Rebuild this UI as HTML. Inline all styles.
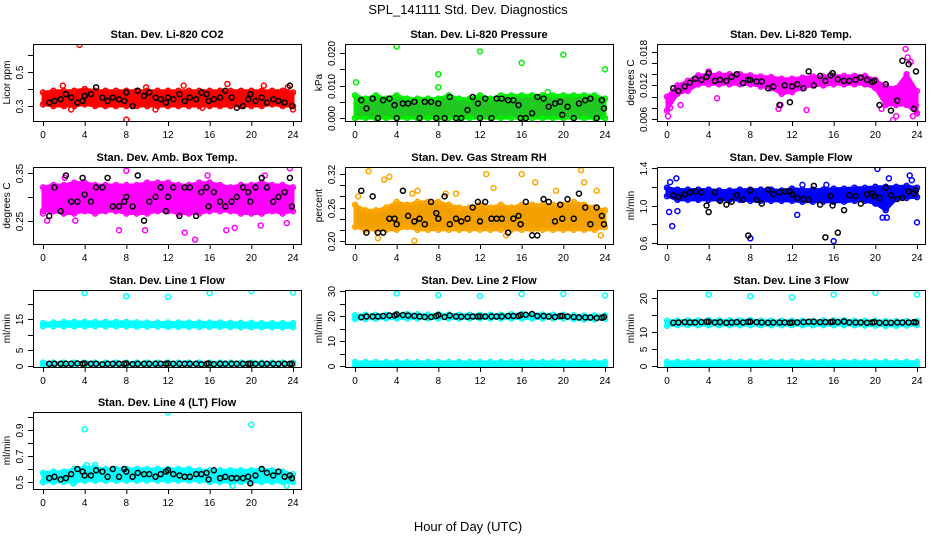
<!DOCTYPE html>
<html><head><meta charset="utf-8"><style>
html,body{margin:0;padding:0;background:#fff;}
svg{display:block;font-family:"Liberation Sans",sans-serif;}
</style></head><body>
<svg id="chart" width="936" height="540" viewBox="0 0 936 540" xmlns="http://www.w3.org/2000/svg">
<rect width="936" height="540" fill="#fff"/>
<text x="468" y="14" font-size="13" text-anchor="middle">SPL_141111  Std. Dev. Diagnostics</text>
<text x="468" y="531" font-size="13" text-anchor="middle">Hour of Day (UTC)</text>
</svg>
<script>
const bandHours=[0,1,2,3,4,5,6,7,8,9,10,11,12,13,14,15,16,17,18,19,20,21,22,23,24];
const blackHours=[0.6,1.1,1.7,2.2,2.7,3.3,3.8,4.0,4.6,5.1,5.7,6.2,6.7,7.3,7.8,8.0,8.6,9.1,9.7,10.2,10.8,11.3,11.8,12.0,12.5,13.1,13.6,14.1,14.7,15.2,15.7,15.9,16.4,17.0,17.5,18.1,18.6,19.2,19.7,19.9,20.4,21.0,21.5,22.1,22.6,23.2,23.7,23.9];
const xTicks=[0,4,8,12,16,20,24];
const titles=["Stan. Dev. Li-820 CO2","Stan. Dev. Li-820 Pressure","Stan. Dev. Li-820 Temp.","Stan. Dev. Amb. Box Temp.","Stan. Dev. Gas Stream RH","Stan. Dev. Sample Flow","Stan. Dev. Line 1 Flow","Stan. Dev. Line 2 Flow","Stan. Dev. Line 3 Flow","Stan. Dev. Line 4 (LT) Flow"];
const yLabels=["Licor ppm","kPa","degrees C","degrees C","percent","ml/min","ml/min","ml/min","ml/min","ml/min"];
const yRanges=[[0.212,0.665],[-0.0009,0.0228],[0.00564,0.0194],[0.201,0.3628],[0.1945,0.3327],[0.589,1.411],[-0.33,24.5],[-0.4,30.4],[-0.3,22.35],[0.446,1.038]];
const yTicks=[[0.3,0.4,0.5,0.6],[0,0.005,0.01,0.015,0.02],[0.006,0.008,0.01,0.012,0.014,0.016,0.018],[0.25,0.3,0.35],[0.2,0.22,0.24,0.26,0.28,0.3,0.32],[0.6,0.8,1.0,1.2,1.4],[0,5,10,15,20],[0,5,10,15,20,25,30],[0,5,10,15,20],[0.5,0.6,0.7,0.8,0.9,1.0]];
const yTickLabels=[["0.3","","0.5",""],["0.000","","0.010","","0.020"],["0.006","","","0.012","","","0.018"],["0.25","","0.35"],["0.20","","","0.26","","","0.32"],["0.6","","1.0","","1.4"],["0","5","","15",""],["0","","10","","20","","30"],["0","5","10","","20"],["0.5","","0.7","","0.9",""]];
const colors=["#ff0000","#00ee00","#ff00ff","#ff00ff","#ffa500","#0000ff","#00ffff","#00ffff","#00ffff","#00ffff"];
const fills=["#ff0000","#22c822","#ff00ff","#ff00ff","#f2a000","#0000ff","#00ffff","#00ffff","#00ffff","#00ffff"];
const bandLo=[
[0.31,0.30,0.30,0.30,0.31,0.30,0.30,0.30,0.30,0.30,0.30,0.30,0.30,0.30,0.30,0.30,0.30,0.30,0.30,0.30,0.30,0.30,0.31,0.30,0.30],
[0,0,0,0,0,0,0,0,0,0,0,0,0,0,0,0,0,0,0,0,0,0,0,0,0],
[0.0075,0.0105,0.011,0.0122,0.0122,0.0122,0.0122,0.0122,0.0122,0.0118,0.0115,0.0105,0.0108,0.0115,0.012,0.012,0.0122,0.0122,0.0122,0.0122,0.0115,0.0085,0.0085,0.0085,0.007],
[0.27,0.27,0.265,0.265,0.27,0.265,0.27,0.27,0.265,0.265,0.265,0.27,0.27,0.265,0.265,0.265,0.27,0.27,0.27,0.265,0.265,0.265,0.27,0.265,0.27],
[0.225,0.22,0.22,0.22,0.22,0.225,0.22,0.22,0.22,0.22,0.22,0.22,0.22,0.22,0.22,0.22,0.22,0.22,0.22,0.22,0.22,0.22,0.22,0.22,0.225],
[1.10,1.06,1.06,1.06,1.06,1.06,1.06,1.06,1.05,1.05,1.05,1.05,1.05,1.04,1.04,1.04,1.04,1.04,1.05,1.05,1.02,0.95,1.07,1.08,1.09],
[12.8,12.8,12.8,12.8,12.8,12.8,12.8,12.8,12.8,12.7,12.7,12.7,12.6,12.6,12.6,12.6,12.6,12.6,12.6,12.5,12.5,12.5,12.5,12.5,12.5],
[18.8,18.8,18.9,19.0,19.0,19.0,19.0,19.0,19.0,19.0,19.0,19.0,19.0,19.0,19.0,19.0,19.0,19.0,19.0,19.0,19.0,18.8,18.6,18.6,18.8],
[11.8,12.0,12.0,12.0,12.0,12.0,12.0,12.0,12.0,12.0,12.0,12.0,12.0,12.0,12.0,12.0,12.0,12.0,12.0,11.9,11.9,11.8,11.8,11.9,12.0],
[0.5,0.5,0.5,0.5,0.51,0.51,0.51,0.51,0.51,0.51,0.51,0.51,0.51,0.51,0.51,0.51,0.5,0.5,0.5,0.5,0.5,0.5,0.5,0.5,0.5]];
const bandHi=[
[0.38,0.39,0.39,0.39,0.40,0.39,0.39,0.39,0.39,0.39,0.39,0.39,0.39,0.39,0.39,0.39,0.39,0.39,0.39,0.39,0.39,0.39,0.39,0.39,0.38],
[0.007,0.006,0.007,0.006,0.007,0.006,0.006,0.006,0.006,0.007,0.006,0.006,0.007,0.006,0.007,0.007,0.007,0.007,0.007,0.007,0.007,0.007,0.007,0.007,0.006],
[0.0100,0.0120,0.0128,0.0138,0.0140,0.0140,0.0140,0.0140,0.0138,0.0136,0.0135,0.0132,0.0132,0.0134,0.0136,0.0136,0.0137,0.0137,0.0137,0.0137,0.0130,0.0118,0.0115,0.0140,0.0110],
[0.32,0.325,0.325,0.33,0.33,0.325,0.325,0.325,0.325,0.325,0.33,0.33,0.33,0.325,0.325,0.33,0.33,0.325,0.32,0.325,0.325,0.33,0.325,0.325,0.32],
[0.265,0.255,0.255,0.26,0.27,0.265,0.27,0.27,0.27,0.265,0.26,0.26,0.265,0.26,0.265,0.26,0.265,0.265,0.265,0.265,0.265,0.27,0.265,0.26,0.255],
[1.19,1.17,1.17,1.17,1.17,1.16,1.16,1.17,1.17,1.17,1.17,1.16,1.18,1.17,1.17,1.17,1.18,1.18,1.19,1.19,1.20,1.20,1.20,1.21,1.19],
[13.8,14.0,14.2,14.2,14.2,14.2,14.2,14.2,14.2,14.1,14.0,14.0,14.0,14.0,14.0,14.0,14.0,14.0,13.9,13.9,13.9,13.8,13.8,13.8,13.8],
[20.3,20.5,20.5,20.5,20.8,20.8,20.7,20.6,20.7,20.6,20.5,20.5,20.5,20.5,20.5,20.7,20.8,20.8,20.6,20.5,20.5,20.3,20.2,20.2,20.2],
[13.3,13.3,13.4,13.4,13.5,13.4,13.4,13.4,13.5,13.3,13.3,13.3,13.3,13.3,13.3,13.4,13.4,13.4,13.3,13.3,13.3,13.2,13.2,13.2,13.2],
[0.57,0.58,0.58,0.6,0.61,0.61,0.6,0.6,0.6,0.6,0.6,0.6,0.6,0.6,0.6,0.59,0.59,0.59,0.59,0.59,0.59,0.6,0.59,0.58,0.56]];
const band2Lo=[null,null,null,null,null,null,
[0.3,0.3,0.3,0.3,0.3,0.3,0.3,0.3,0.3,0.3,0.3,0.3,0.3,0.3,0.3,0.3,0.3,0.3,0.3,0.3,0.3,0.3,0.3,0.3,0.3],
[0,0,0,0,0,0,0,0,0,0,0,0,0,0,0,0,0,0,0,0,0,0,0,0,0],
[0,0,0,0,0,0,0,0,0,0,0,0,0,0,0,0,0,0,0,0,0,0,0,0,0],null];
const band2Hi=[null,null,null,null,null,null,
[1.1,1.1,1.1,1.1,1.1,1.1,1.1,1.1,1.1,1.1,1.1,1.1,1.1,1.1,1.1,1.1,1.1,1.1,1.1,1.1,1.1,1.1,1.1,1.1,1.1],
[1.6,1.6,1.6,1.6,1.6,1.6,1.6,1.6,1.6,1.6,1.6,1.6,1.6,1.6,1.6,1.6,1.6,1.6,1.6,1.6,1.6,1.6,1.6,1.6,1.6],
[1.2,1.2,1.2,1.2,1.2,1.2,1.2,1.2,1.2,1.2,1.2,1.2,1.2,1.2,1.2,1.2,1.2,1.2,1.2,1.2,1.2,1.2,1.2,1.2,1.2],null];
const outlierHours=[
[3.5,8.0,24.0,1.9,17.7,21.2,9.9,2.7,10.8,13.5,15.3,23.5],
[0.1,4.0,8.0,8.0,12.0,16.0,20.0,24.0,0.3,18.5],
[0.1,0.3,1.3,4.0,4.8,10.7,13.4,21.7,22.0,22.9,23.1,23.4,23.6,23.9,20.6,10.9],
[8.0,23.7,14.6,13.6,0.0,0.4,3.1,7.3,9.8,17.6,18.4,20.9,23.4,15.8,21.3,2.1],
[1.3,2.8,3.3,12.6,16.0,17.3,21.7,22.0,5.7,2.2,14.5,23.6,0.3,8.7,9.7,13.3,19.3,23.2,6.0,5.5],
[0.2,0.3,0.5,0.9,1.0,8.0,12.5,16.0,20.2,20.7,21.1,21.3,23.3,23.5,24.0,13.0,15.3],
[4.0,8.0,12.0,16.0,20.0,24.0],
[4.0,8.0,12.0,16.0,20.0,24.0],
[4.0,8.0,12.0,16.0,20.0,24.0],
[4.0,12.0,20.0,4.2,5.0,18.2,23.4,0.0,2.9]];
const outlierValues=[
[0.66,0.22,0.28,0.42,0.43,0.42,0.41,0.28,0.28,0.42,0.29,0.41],
[0.011,0.022,0.0135,0.0095,0.0205,0.017,0.0195,0.015,0.004,0.008],
[0.0065,0.008,0.0085,0.0145,0.0097,0.0078,0.0076,0.0058,0.0065,0.0185,0.017,0.0162,0.0065,0.0085,0.0078,0.0085],
[0.355,0.36,0.21,0.225,0.265,0.25,0.25,0.23,0.23,0.23,0.235,0.24,0.245,0.345,0.345,0.34],
[0.325,0.31,0.315,0.32,0.32,0.305,0.327,0.305,0.2,0.205,0.21,0.21,0.28,0.285,0.285,0.295,0.29,0.29,0.29,0.285],
[0.93,1.25,0.78,1.29,0.94,0.65,0.9,0.62,1.39,0.87,0.87,1.29,1.32,1.27,0.82,1.22,1.22],
[23.5,22.5,22.3,23.5,24.2,23.7],
[29.0,28.3,28.0,28.8,28.8,28.2],
[21.0,20.5,20.2,21.0,21.5,21.0],
[0.905,1.035,0.94,0.63,0.63,0.47,0.47,0.5,0.49]];
const blackValues=[
[0.32,0.33,0.34,0.37,0.35,0.32,0.33,0.36,0.37,0.41,0.35,0.33,0.35,0.34,0.33,0.38,0.30,0.39,0.36,0.38,0.35,0.34,0.32,0.35,0.34,0.37,0.33,0.35,0.34,0.38,0.37,0.33,0.34,0.35,0.39,0.35,0.29,0.30,0.34,0.37,0.33,0.35,0.32,0.34,0.33,0.32,0.42,0.30],
[0.0055,0.003,0.006,0.000,0.0055,0.006,0.004,0.000,0.0045,0.0045,0.005,0.000,0.005,0.005,0.000,0.0045,0.000,0.0065,0.000,0.000,0.0025,0.0065,0.0045,0.000,0.006,0.000,0.006,0.006,0.0055,0.0055,0.004,0.000,0.000,0.0015,0.0065,0.006,0.0035,0.0045,0.0050,0.001,0.0035,0.000,0.0045,0.0055,0.006,0.000,0.0055,0.003],
[0.0115,0.011,0.0118,0.0125,0.0132,0.013,0.0135,0.0142,0.0128,0.013,0.0128,0.0135,0.014,0.0124,0.013,0.013,0.0127,0.0127,0.0115,0.0118,0.0085,0.012,0.009,0.0118,0.0122,0.0115,0.0145,0.012,0.0137,0.0128,0.0138,0.0142,0.0131,0.0128,0.0128,0.013,0.0134,0.013,0.0126,0.0128,0.0085,0.0122,0.0075,0.0093,0.0164,0.0158,0.0078,0.0145],
[0.26,0.32,0.27,0.345,0.29,0.29,0.34,0.305,0.29,0.32,0.32,0.34,0.28,0.28,0.29,0.30,0.28,0.345,0.25,0.29,0.30,0.32,0.27,0.30,0.32,0.26,0.32,0.32,0.26,0.31,0.32,0.28,0.31,0.29,0.28,0.29,0.30,0.32,0.31,0.29,0.32,0.34,0.32,0.29,0.30,0.31,0.34,0.28],
[0.29,0.215,0.28,0.215,0.215,0.24,0.24,0.23,0.29,0.245,0.235,0.24,0.23,0.27,0.25,0.24,0.28,0.23,0.24,0.235,0.24,0.26,0.27,0.235,0.27,0.24,0.24,0.24,0.215,0.24,0.245,0.23,0.27,0.21,0.21,0.275,0.27,0.235,0.265,0.24,0.275,0.24,0.285,0.26,0.23,0.26,0.245,0.23],
[1.11,1.09,1.12,1.14,1.15,1.14,1.0,0.93,1.14,1.05,1.01,1.04,1.11,1.06,0.68,1.16,1.06,1.02,1.17,1.12,1.14,1.15,1.15,1.12,1.08,1.07,1.06,1.21,1.01,0.66,1.10,1.00,0.71,0.95,1.11,1.10,1.02,1.12,1.13,1.10,1.08,1.19,1.11,1.07,1.08,1.15,1.13,1.16],
[0.7,0.7,0.7,0.7,0.7,0.8,0.7,0.8,0.7,0.7,0.5,0.7,0.7,0.7,0.7,0.8,0.6,0.7,0.7,0.7,0.7,0.7,0.7,0.8,0.7,0.7,0.7,0.7,0.7,0.5,0.7,0.8,0.6,0.7,0.7,0.7,0.7,0.7,0.7,0.7,0.7,0.7,0.7,0.7,0.7,0.7,0.7,0.7],
[19.5,19.8,19.8,19.8,20.0,20.2,20.2,20.6,20.4,20.2,20.0,19.8,19.6,19.6,20.0,20.4,19.6,20.2,19.8,19.7,19.7,19.8,19.8,19.8,19.8,19.8,19.8,19.8,20.0,20.0,20.0,20.4,20.5,20.8,20.0,20.0,19.8,19.6,20.0,20.0,19.8,19.6,19.4,19.4,19.4,19.2,19.3,19.6],
[12.7,12.8,12.9,12.8,12.8,12.9,13.0,13.0,12.8,12.9,12.7,12.8,12.9,12.8,13.0,13.0,12.9,12.8,12.7,12.8,12.8,12.8,12.7,12.8,12.8,12.9,13.0,13.0,12.9,12.9,12.9,13.0,12.9,13.1,12.8,12.8,12.8,12.7,12.8,12.9,12.7,12.7,12.7,12.8,12.8,12.8,12.9,12.8],
[0.53,0.54,0.52,0.53,0.56,0.6,0.58,0.55,0.55,0.59,0.58,0.54,0.6,0.54,0.6,0.58,0.54,0.57,0.56,0.56,0.54,0.56,0.58,0.59,0.56,0.55,0.54,0.54,0.56,0.56,0.57,0.52,0.59,0.53,0.54,0.53,0.53,0.53,0.54,0.49,0.55,0.6,0.57,0.55,0.58,0.54,0.55,0.53]];

const NS="http://www.w3.org/2000/svg";
const svg=document.getElementById('chart');
const rowTops=[44,167,290,412];
const PH=77;
function mk(tag,attrs,parent){const e=document.createElementNS(NS,tag);for(const k in attrs)e.setAttribute(k,attrs[k]);(parent||svg).appendChild(e);return e;}

for(let p=0;p<10;p++){
  const col=p%3,row=Math.floor(p/3);
  const left=33+312*col,right=301+312*col,top=rowTops[row],bottom=top+PH;
  const x0=43+312*col,x1=293+312*col;
  const [vb,vt]=yRanges[p];
  const X=h=>x0+(h/24)*(x1-x0);
  const Y=v=>top+(vt-v)/(vt-vb)*PH;
  const g=mk('g',{});
  
  
  const clipId='clip'+p;
  const cp=mk('clipPath',{id:clipId},g);
  mk('rect',{x:left,y:top,width:right-left,height:PH},cp);
  const pg=mk('g',{'clip-path':'url(#'+clipId+')'},g);
  
  
  const bands=[[bandLo[p],bandHi[p]]];
  if(band2Lo[p])bands.push([band2Lo[p],band2Hi[p]]);
  bands.forEach((b,bi)=>{
    const [lo,hi]=b;
    let pts=bandHours.map((h,i)=>X(h)+','+Y(hi[i]));
    pts=pts.concat(bandHours.map((h,i)=>X(h)+','+Y(lo[i])).reverse());
    const poly=mk('polygon',{points:pts.join(' '),fill:fills[p],stroke:colors[p],'stroke-width':3,'stroke-linejoin':'round'},pg);
    
    
    bandHours.forEach((h,i)=>{
      [hi[i],lo[i]].forEach(v=>{
        const c=mk('circle',{cx:X(h),cy:Y(v),r:2.5,fill:'none',stroke:colors[p],'stroke-width':1.5},pg);
        
        
      });
    });
  });
  outlierHours[p].forEach((h,i)=>{
    const c=mk('circle',{cx:X(h),cy:Y(outlierValues[p][i]),r:2.5,fill:'none',stroke:colors[p],'stroke-width':1.5},pg);
    
    
  });
  blackHours.forEach((h,i)=>{
    const c=mk('circle',{cx:X(h),cy:Y(blackValues[p][i]),r:2.5,fill:'none',stroke:'#000','stroke-width':1.5},pg);
    
    
  });
  const box=mk('rect',{x:left+0.5,y:top+0.5,width:right-left,height:PH,fill:'none',stroke:'#000','stroke-width':1},g);
  
  
  const t=mk('text',{x:(left+right)/2,y:top-6,'font-size':11,'font-weight':'bold','text-anchor':'middle'},g);
  t.textContent=titles[p];
  
  
  const xa=mk('g',{},g);
  
  
  mk('line',{x1:X(0),x2:X(24),y1:bottom+0.5,y2:bottom+0.5,stroke:'#000'},xa);
  xTicks.forEach(h=>{
    mk('line',{x1:X(h)+0.5,x2:X(h)+0.5,y1:bottom,y2:bottom+5,stroke:'#000'},xa);
    const tl=mk('text',{x:X(h),y:bottom+17,'font-size':10,'text-anchor':'middle'},xa);
    tl.textContent=String(h);
    
    
  });
  const ya=mk('g',{},g);
  
  
  const tk=yTicks[p];
  mk('line',{x1:left+0.5,x2:left+0.5,y1:Y(tk[0]),y2:Y(tk[tk.length-1]),stroke:'#000'},ya);
  tk.forEach((v,i)=>{
    const yy=Math.round(Y(v))+0.5;
    mk('line',{x1:left-5,x2:left,y1:yy,y2:yy,stroke:'#000'},ya);
    const lab=yTickLabels[p][i];
    if(lab){
      const tl=mk('text',{x:left-10,y:yy,'font-size':10,'text-anchor':'middle',transform:'rotate(-90 '+(left-10)+' '+yy+')'},ya);
      tl.textContent=lab;
      
      
    }
  });
  const yl=mk('text',{x:left-23,y:top+PH/2,'font-size':10,'text-anchor':'middle',transform:'rotate(-90 '+(left-23)+' '+(top+PH/2)+')'},g);
  yl.textContent=yLabels[p];
  
  
}
</script>
</body></html>
